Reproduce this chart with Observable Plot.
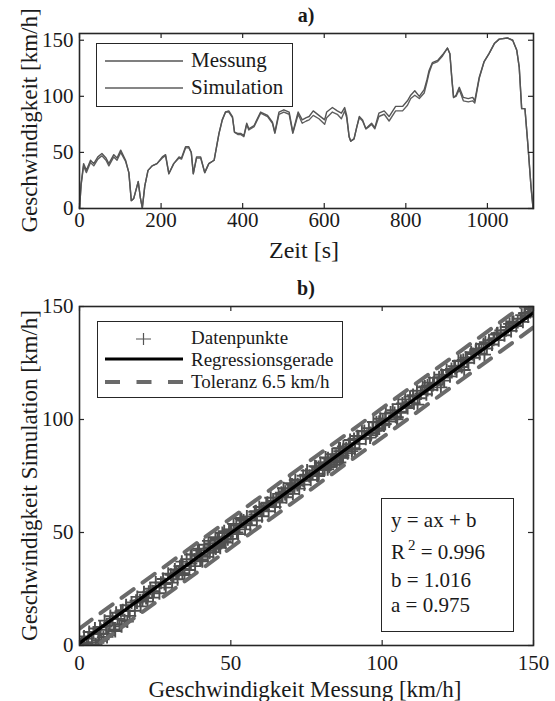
<!DOCTYPE html>
<html>
<head>
<meta charset="utf-8">
<script src="https://cdn.jsdelivr.net/npm/d3@7"></script>
<script src="https://cdn.jsdelivr.net/npm/@observablehq/plot@0.6"></script>
<style>
  html, body { margin: 0; padding: 0; background: #fff; }
  #wrap { position: relative; width: 555px; height: 701px; overflow: hidden; background: #fff; font-family: "Liberation Serif", "Times New Roman", serif; }
  #wrap svg { position: absolute; left: 0; }
  #wrap svg, #wrap svg text { font-family: "Liberation Serif", "Times New Roman", serif !important; }
</style>
</head>
<body>
<div id="wrap"></div>
<script>
// ---------- Data (a) time series ----------
const time = [0,4,10,17,27,35,45,55,65,72, 84,92,101,113,121,127,133,144,149,154, 160,168,178,190,203,211,219,231,244,250, 260,268,274,279,287,297,307,317,330,342, 350,358,366,375,380,388,395,403,410,415, 428,444,461,473,479,489,501,514,523,536, 546,556,563,573,587,601,606,620,632,642, 650,655,661,665,673,680,686,694,702,710, 716,724,734,747,759,775,792,804,812,822, 833,845,852,857,865,878,890,902,908,913, 917,923,931,941,953,964,969,980,992,1004, 1017,1029,1049,1062,1072,1078,1084,1092,1099,1107, 1112];
const messung = [0,22,40,34,43,40,46,49,45,40, 48,45,52,43,32,7,9,24,10,0.5, 20,34,38,40,46,48,31,40,46,45, 55,55,50,31,46,46,32,40,43,67, 79,86,87,82,68,67,67,65,76,71, 74,86,83,77,68,86,88,86,68,86, 79,81,82,87,83,79,86,90,87,85, 90,83,64,60,62,73,82,79,71,74, 76,72,85,87,82,91,91,96,101,105, 100,106,115,123,130,132,137,143,138,115, 99,101,108,99,98,99,96,117,131,138, 147,151,152,150,141,126,89,89,58,19, 0];
const simulation = [0,21,38,32,41,38,44,47,43,38, 46,43,50,42,32,7,9,24,10,0.5, 20,34,38,40,45,47,31,40,45,44, 54,54,50,31,45,45,32,40,43,67, 79,86,86,81,68,66,66,64,75,70, 73,85,82,76,67,84,86,84,67,84, 76,78,79,83,80,75,81,86,84,80, 87,81,64,60,62,73,81,78,71,73, 75,71,82,84,78,87,87,92,98,101, 98,103,113,121,129,131,136,143,138,115, 99,100,106,96,95,96,94,116,131,138, 147,151,152,150,141,126,89,89,58,19, 0];

const scatterMessung = [1.5,3.2,5.1,6.8,8.3,10.2,12.1,13.7,15.4,17.2,19.1,21.3,23.4,25.2,27.6,29.3,31.5,33.2,35.4,37.1,39.5,41.2,43.3,45.6,47.2,49.4,51.8,53.5,55.3,57.9,59.4,61.7,63.2,65.8,67.4,69.6,71.3,73.9,75.2,77.8,79.6,81.3,83.5,85.7,87.2,89.4,91.8,93.3,95.6,97.1,99.4,101.2,103.5,105.3,107.6,109.2,111.5,113.4,115.7,117.2,119.6,121.3,123.8,125.2,127.6,129.4,131.1,133.5,135.3,137.8,139.2,141.6,143.4,145.7,147.3,149.1,150.2,148.6,
  2.4,4.1,6.2,7.9,9.6,11.4,13.2,14.9,16.6,18.3,20.2,22.5,24.3,26.4,28.5,30.6,32.4,34.7,36.3,38.2,40.6,42.4,44.2,46.5,48.3,50.6,52.4,54.7,56.4,58.6,60.3,62.5,64.6,66.2,68.4,70.5,72.6,74.3,76.4,78.5,80.4,82.6,84.3,86.5,88.6,90.2,92.5,94.6,96.3,98.4,100.6,102.3,104.5,106.2,108.4,110.5,112.3,114.6,116.4,118.2,120.5,122.4,124.6,126.3,128.5,130.4,132.2,134.6,136.3,138.5,140.4,142.6,144.3,146.5,148.2,150.5,
  0.8,2.9,4.6,6.5,8.8,10.9,12.6,14.3,16.1,18.7,20.8,22.9,24.6,26.9,28.1,30.2,32.8,34.1,36.8,38.6,40.1,42.8,44.7,46.1,48.8,50.1,52.9,54.2,56.8,58.3,60.8,62.1,64.1,66.7,68.9,70.2,72.1,74.8,76.9,78.2,80.9,82.1,84.8,86.1,88.1,90.7,92.2,94.1,96.8,98.1,100.2,102.8,104.1,106.7,108.9,110.2,112.8,114.1,116.8,118.8,120.1,122.9,124.1,126.8,128.1,130.9,132.8,134.1,136.8,138.1,140.9,142.1,144.8,146.1,148.9,149.6,150.6,
  33.8,36.7,39.1,42.6,44.9,47.8,50.9,53.1, 5.4,7.2,9.1,11.8,13.9,15.8, 104.9,111.7,119.4,127.1,133.8];
const scatterSimulation = [4,6,7.5,8.2,11,13,14.5,15.2,17.8,19,21.5,23.6,25.1,27.9,29.4,31.8,33.6,35.1,38.2,40.3,42.1,44.6,45.2,47.1,49.8,51.3,53.2,55.9,57.1,59.2,61.3,62.8,65.4,67.1,69.6,71.8,73.2,75.1,77.4,79.3,80.8,83.2,84.6,87.3,88.1,90.9,92.7,94.8,96.2,98.9,100.3,102.6,104.1,106.8,108.9,110.1,112.7,114.2,116.3,118.4,119.8,121.9,123.6,125.9,127.3,129.8,131.2,133.4,135.1,137.6,139.4,140.9,143.2,144.6,147.1,150.4,151.3,149.8,
  0.8,1.5,2.4,3.6,5.2,7.1,9.4,11.2,13.1,15.4,17.3,19.4,21.2,23.1,25.6,27.8,29.3,31.2,33.4,35.1,37.3,39.2,41.3,43.2,45.6,47.2,49.3,51.4,53.2,55.3,57.2,59.4,61.3,63.2,65.6,67.1,69.4,71.2,73.3,75.2,77.6,79.1,81.4,83.2,85.1,87.3,89.2,91.5,93.1,95.2,97.4,99.1,101.2,103.4,105.1,107.2,109.4,111.2,113.1,115.4,117.2,119.1,121.3,123.2,125.1,127.3,129.1,131.4,133.2,135.1,137.3,139.2,141.4,143.2,145.6,147.3,
  1.2,3.1,5.8,5.1,8.4,11.9,11.8,15.6,15.2,19.8,20.1,23.8,23.9,27.8,27.2,31.3,32.1,35.2,36.3,39.7,39.6,43.5,44.1,47.3,48.2,51.2,52.3,55.3,56.1,59.4,60.1,63.2,63.6,67.6,68.3,71.2,71.3,75.6,76.2,79.1,80.2,82.8,83.9,87.2,87.3,91.4,91.6,94.9,95.9,98.8,99.4,103.1,102.9,107.1,107.6,110.8,111.5,114.6,115.3,118.7,118.6,122.4,122.7,126.3,126.6,130.4,131.5,134.2,135.3,138.2,139.5,142.3,143.1,146.2,147.6,148.9,149.5,
  37.1,40.2,42.8,46.3,47.9,50.6,53.8,56.4, 0.6,2.1,3.8,6.4,8.5,10.6, 100.1,106.6,114.2,121.9,128.7];

// ---------- Regression / tolerance ----------
const regA = 0.975;
const regB = 1.016;
const rSquared = 0.996;
const tolerance = 6.5;
const regX = [0, 150];

// ---------- Ticks ----------
const xTicksA = [0, 200, 400, 600, 800, 1000];
const yTicksA = [0, 50, 100, 150];
const ticksB = [0, 50, 100, 150];

// ---------- Build tables ----------
const series = time.map((t, i) => ({t, mess: messung[i], sim: simulation[i]}));
const points = series.map(d => ({x: d.mess, y: d.sim}))
  .concat(scatterMessung.map((x, i) => ({x, y: scatterSimulation[i]})));
const regLine = regX.map(x => ({x, y: regA * x + regB, up: regA * x + regB + tolerance, lo: regA * x + regB - tolerance}));

const plusSymbol = {
  draw(ctx, size) {
    const r = Math.sqrt(size / Math.PI);
    ctx.moveTo(-r, 0); ctx.lineTo(r, 0);
    ctx.moveTo(0, -r); ctx.lineTo(0, r);
  }
};

const frameColor = "#262626";
const textColor = "#1a1a1a";
const serif = "'Liberation Serif', 'Times New Roman', serif";
const baseStyle = {fontFamily: serif, fontSize: "21px", color: textColor, background: "transparent", overflow: "visible"};
const tickLen = 5;

// ---------- Plot a ----------
const A = {w: 555, h: 260, ml: 79, mr: 22, mt: 33, mb: 52};
const innerWA = A.w - A.ml - A.mr, innerHA = A.h - A.mt - A.mb;
const chartA = Plot.plot({
  width: A.w, height: A.h,
  marginLeft: A.ml, marginRight: A.mr, marginTop: A.mt, marginBottom: A.mb,
  style: baseStyle,
  x: {domain: [0, 1113], ticks: xTicksA, tickSize: 0, tickPadding: 4, label: null, tickFormat: d => String(d)},
  y: {domain: [0, 156], ticks: yTicksA, tickSize: 0, tickPadding: 6, label: null, tickFormat: d => String(d)},
  marks: [
    Plot.line(series, {x: "t", y: "sim", stroke: "#5e5e5e", strokeWidth: 1.4}),
    Plot.line(series, {x: "t", y: "mess", stroke: "#555555", strokeWidth: 1.4}),
    Plot.tickX(xTicksA, {x: d => d, insetTop: innerHA - tickLen, stroke: frameColor, strokeWidth: 1.2}),
    Plot.tickX(xTicksA, {x: d => d, insetBottom: innerHA - tickLen, stroke: frameColor, strokeWidth: 1.2}),
    Plot.tickY(yTicksA, {y: d => d, insetRight: innerWA - tickLen, stroke: frameColor, strokeWidth: 1.2}),
    Plot.tickY(yTicksA, {y: d => d, insetLeft: innerWA - tickLen, stroke: frameColor, strokeWidth: 1.2}),
    Plot.frame({stroke: frameColor, strokeWidth: 1.6})
  ]
});
chartA.style.top = "0px";

// ---------- Plot b ----------
const B = {w: 555, h: 441, ml: 79, mr: 22, mt: 46, mb: 56};
const innerWB = B.w - B.ml - B.mr, innerHB = B.h - B.mt - B.mb;
const chartB = Plot.plot({
  width: B.w, height: B.h,
  marginLeft: B.ml, marginRight: B.mr, marginTop: B.mt, marginBottom: B.mb,
  style: baseStyle,
  x: {domain: [0, 150], ticks: ticksB, tickSize: 0, tickPadding: 10, label: null, tickFormat: d => String(d)},
  y: {domain: [0, 150], ticks: ticksB, tickSize: 0, tickPadding: 6, label: null, tickFormat: d => String(d)},
  marks: [
    Plot.dot(points, {x: "x", y: "y", symbol: plusSymbol, r: 6.5, fill: "none", stroke: "#505050", strokeWidth: 1.9, clip: true}),
    Plot.line(regLine, {x: "x", y: "up", stroke: "#6a6a6a", strokeWidth: 4, strokeDasharray: "15,11", clip: true}),
    Plot.line(regLine, {x: "x", y: "lo", stroke: "#6a6a6a", strokeWidth: 4, strokeDasharray: "15,11", clip: true}),
    Plot.line(regLine, {x: "x", y: "y", stroke: "#000000", strokeWidth: 3.2, clip: true}),
    Plot.tickX(ticksB, {x: d => d, insetTop: innerHB - tickLen, stroke: frameColor, strokeWidth: 1.2}),
    Plot.tickX(ticksB, {x: d => d, insetBottom: innerHB - tickLen, stroke: frameColor, strokeWidth: 1.2}),
    Plot.tickY(ticksB, {y: d => d, insetRight: innerWB - tickLen, stroke: frameColor, strokeWidth: 1.2}),
    Plot.tickY(ticksB, {y: d => d, insetLeft: innerWB - tickLen, stroke: frameColor, strokeWidth: 1.2}),
    Plot.frame({stroke: frameColor, strokeWidth: 1.6})
  ]
});
chartB.style.top = "260px";

const wrap = document.getElementById("wrap");
wrap.appendChild(chartA);
wrap.appendChild(chartB);

// ---------- Overlay: titles, axis labels, legends, stats ----------
const ov = d3.select(wrap).append("svg")
  .attr("width", 555).attr("height", 701)
  .style("top", "0px").style("pointer-events", "none")
  .attr("font-family", serif)
  .attr("fill", textColor);

function txt(x, y, s, size, opts = {}) {
  const t = ov.append("text").attr("x", x).attr("y", y).attr("font-size", size).text(s);
  if (opts.anchor) t.attr("text-anchor", opts.anchor);
  if (opts.bold) t.attr("font-weight", "bold");
  if (opts.rotate) t.attr("transform", `rotate(-90 ${x} ${y})`);
  return t;
}

// titles
txt(306, 22, "a)", 20, {anchor: "middle", bold: true});
txt(306, 295, "b)", 20, {anchor: "middle", bold: true});
// axis labels
txt(304, 258, "Zeit [s]", 24, {anchor: "middle"});
txt(37, 120.5, "Geschwindigkeit [km/h]", 23, {anchor: "middle", rotate: true});
txt(305, 697, "Geschwindigkeit Messung [km/h]", 23, {anchor: "middle"});
txt(37, 475.5, "Geschwindigkeit Simulation [km/h]", 23, {anchor: "middle", rotate: true});

// legend a
ov.append("rect").attr("x", 96.5).attr("y", 43.5).attr("width", 196).attr("height", 63)
  .attr("fill", "#fff").attr("stroke", frameColor).attr("stroke-width", 1);
ov.append("line").attr("x1", 105).attr("x2", 183).attr("y1", 61).attr("y2", 61).attr("stroke", "#555").attr("stroke-width", 1.4);
ov.append("line").attr("x1", 105).attr("x2", 183).attr("y1", 88).attr("y2", 88).attr("stroke", "#5e5e5e").attr("stroke-width", 1.4);
txt(191, 67, "Messung", 21);
txt(191, 94, "Simulation", 21);

// legend b
ov.append("rect").attr("x", 97.5).attr("y", 321.5).attr("width", 245).attr("height", 76)
  .attr("fill", "#fff").attr("stroke", frameColor).attr("stroke-width", 1);
ov.append("path").attr("d", "M136,339H151M143.5,333V345").attr("stroke", "#555").attr("stroke-width", 1.2).attr("fill", "none");
ov.append("line").attr("x1", 105).attr("x2", 183).attr("y1", 359).attr("y2", 359).attr("stroke", "#000").attr("stroke-width", 3.2);
ov.append("line").attr("x1", 105).attr("x2", 183).attr("y1", 382).attr("y2", 382).attr("stroke", "#6a6a6a").attr("stroke-width", 4).attr("stroke-dasharray", "15,16.5");
txt(191, 344, "Datenpunkte", 19);
txt(191, 366, "Regressionsgerade", 19);
txt(191, 388, `Toleranz ${tolerance} km/h`, 19);

// stats box
ov.append("rect").attr("x", 381.5).attr("y", 498.5).attr("width", 132).attr("height", 133)
  .attr("fill", "#fff").attr("stroke", frameColor).attr("stroke-width", 1);
txt(391, 527, "y = ax + b", 21);
const r2 = ov.append("text").attr("x", 391).attr("y", 559).attr("font-size", 21);
r2.append("tspan").text("R");
r2.append("tspan").attr("dx", 3).attr("dy", -9).attr("font-size", 15).text("2");
r2.append("tspan").attr("dy", 9).text(` = ${rSquared.toFixed(3)}`);
txt(391, 587, `b = ${regB.toFixed(3)}`, 21);
txt(391, 612, `a = ${regA.toFixed(3)}`, 21);
</script>
</body>
</html>
